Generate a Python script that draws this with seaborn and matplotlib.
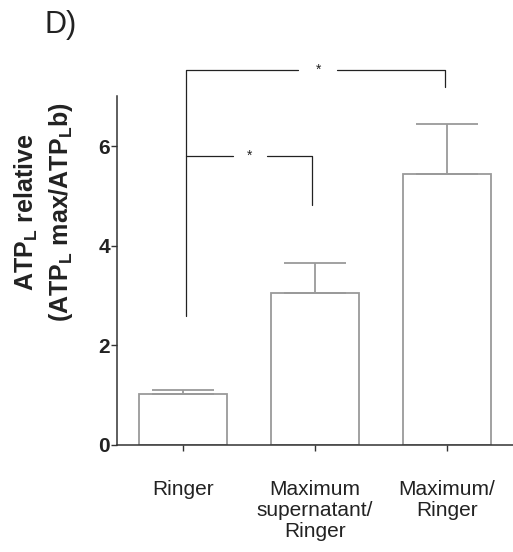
import matplotlib
matplotlib.use("Agg")
import matplotlib.pyplot as plt
import seaborn as sns
import numpy as np
import pandas as pd

categories = ["Ringer", "Maximum\nsupernatant/\nRinger", "Maximum/\nRinger"]
means = [1.03, 3.05, 5.45]
sem = [0.07, 0.60, 1.00]
yticks = [0, 2, 4, 6]

sns.set_theme(style="ticks")
plt.rcParams['font.family'] = ['Liberation Sans', 'DejaVu Sans']
plt.rcParams['mathtext.fontset'] = 'custom'
plt.rcParams['mathtext.bf'] = 'Liberation Sans:bold'
plt.rcParams['mathtext.rm'] = 'Liberation Sans'

df = pd.DataFrame({"group": categories, "value": means})

fig = plt.figure(figsize=(5.13, 5.52), dpi=100)
ax = fig.add_axes([0.228, 0.194, 0.772, 0.6855])

sns.barplot(data=df, x="group", y="value", ax=ax, color="white",
            edgecolor="#9a9a9a", linewidth=1.3, width=0.665, errorbar=None)
for p in ax.patches:
    p.set_facecolor("white")

ax.errorbar(np.arange(len(means)), means, yerr=[np.zeros(len(means)), sem],
            fmt="none", ecolor="#9a9a9a", elinewidth=1.3, capsize=22, capthick=1.3,
            zorder=1)

ax.set_xlim(-0.5, 2.5)
ax.set_ylim(0, 7.6)
ax.set_yticks(yticks)
ax.set_yticklabels([str(t) for t in yticks], fontsize=15, fontweight="bold")
ax.set_xticks(range(len(categories)))
ax.set_xticklabels(categories, fontsize=15, linespacing=1.15)
ax.tick_params(axis="x", length=4, width=1, pad=21, colors="#333333", labelcolor="#222222")
ax.tick_params(axis="y", length=4, width=1, pad=1, colors="#333333", labelcolor="#222222")
ax.set_xlabel("")
ax.set_ylabel("")
ax.spines["right"].set_visible(False)
ax.spines["top"].set_visible(False)
ax.spines["left"].set_bounds(0, 7)
for s in ["left", "bottom"]:
    ax.spines[s].set_color("#333333")
    ax.spines[s].set_linewidth(1.1)

fig.text(0.0858, 0.616,
         "ATP$_\\mathbf{L}$ relative\n(ATP$_\\mathbf{L}$ max/ATP$_\\mathbf{L}$b)",
         rotation=90, ha="center", va="center", fontsize=18, fontweight="bold",
         linespacing=1.3, color="#222222", multialignment="center")

lc = "#222222"
lw = 0.9
# bracket 1: Ringer vs Maximum/Ringer
ax.plot([0.023, 0.023, 0.875], [2.59, 7.53, 7.53], color=lc, lw=lw, clip_on=False)
ax.plot([1.17, 1.985, 1.985], [7.53, 7.53, 7.19], color=lc, lw=lw, clip_on=False)
ax.text(1.03, 7.53, "*", ha="center", va="center", fontsize=10, color=lc)
# bracket 2: Ringer vs Maximum supernatant/Ringer
ax.plot([0.023, 0.377], [5.8, 5.8], color=lc, lw=lw)
ax.plot([0.64, 0.98, 0.98], [5.8, 5.8, 4.82], color=lc, lw=lw)
ax.text(0.506, 5.8, "*", ha="center", va="center", fontsize=10, color=lc)

fig.text(0.0877, 0.955, "D)", fontsize=22, ha="left", va="center", color="#222222")

fig.savefig("out.png", dpi=100)
